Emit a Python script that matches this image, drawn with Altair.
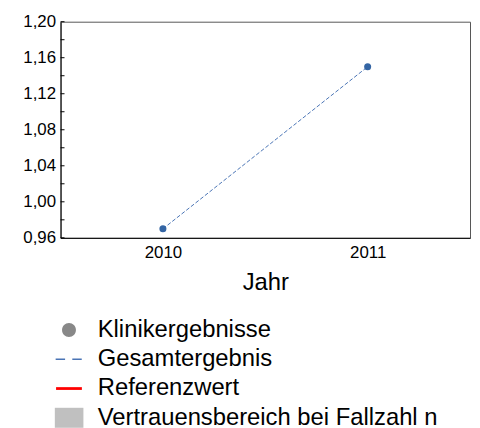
import altair as alt
import pandas as pd

# data
years = [2010, 2011]
values = [0.97, 1.15]
y_ticks = [0.96, 0.98, 1.00, 1.02, 1.04, 1.06, 1.08, 1.10, 1.12, 1.14, 1.16, 1.18, 1.20]
x_ticks = [2010, 2011]
legend_labels = ["Klinikergebnisse", "Gesamtergebnis", "Referenzwert",
                 "Vertrauensbereich bei Fallzahl n"]
legend_colors = ["#888888", "#4a74b5", "#ff0000", "#c0c0c0"]
legend_shapes = [
    "M-0.5,0A0.5,0.5 0 1,0 0.5,0A0.5,0.5 0 1,0 -0.5,0Z",
    "M-0.96,-0.05H-0.28V0.05H-0.96Z M0.24,-0.05H0.92V0.05H0.24Z",
    "M-0.93,-0.1H0.93V0.1H-0.93Z",
    "M-1.02,-0.72H1.04V0.72H-1.02Z",
]

FONT = "Liberation Sans"

df = pd.DataFrame({"Jahr": years, "Wert": values})
ticks_df = pd.DataFrame({"Wert": y_ticks})
leg_df = pd.DataFrame({"serie": legend_labels})

x_enc = alt.X(
    "Jahr:Q",
    scale=alt.Scale(domain=[2009.5, 2011.5], nice=False, zero=False),
    axis=alt.Axis(values=x_ticks, format="d", grid=False, ticks=False,
                  tickSize=0, labelPadding=7, labelFontSize=17,
                  labelFont=FONT, labelColor="#000", domainColor="#000",
                  title="Jahr", titleFontSize=24, titleFont=FONT,
                  titleFontWeight="normal", titleColor="#000",
                  titlePadding=10),
)
y_scale = alt.Scale(domain=[0.96, 1.20], nice=False, zero=False)
y_axis = alt.Axis(values=y_ticks, grid=False, ticks=False, tickSize=0,
                  labelPadding=5, labelFontSize=17, labelFont=FONT,
                  labelColor="#000", domainColor="#000", title=None,
                  labelOverlap=False, labelBound=False,
                  labelExpr="round(datum.value*100) % 4 == 0 ? replace(format(datum.value, '.2f'), '.', ',') : ''")
y_enc = alt.Y("Wert:Q", scale=y_scale, axis=y_axis)

line = alt.Chart(df).mark_line(
    strokeDash=[4, 2], strokeWidth=1, color="#4a74b5"
).encode(x=x_enc, y=y_enc)

points = alt.Chart(df).mark_circle(size=50, color="#3465a4", opacity=1).encode(
    x=x_enc, y=y_enc
)

tick_marks = alt.Chart(ticks_df).mark_rule(color="#000", strokeWidth=1).encode(
    x=alt.value(0), x2=alt.value(4), y=y_enc
)

legend_layer = alt.Chart(leg_df).mark_point(filled=True, size=0, opacity=1).encode(
    color=alt.Color(
        "serie:N",
        scale=alt.Scale(domain=legend_labels, range=legend_colors),
        title=None,
        legend=alt.Legend(
            orient="none", legendX=-5.5, legendY=297, direction="vertical",
            symbolSize=784, symbolStrokeWidth=0, symbolOpacity=1,
            labelFontSize=24, labelFont=FONT, labelColor="#000",
            labelOffset=15, rowPadding=3.5, padding=0, labelLimit=500,
        ),
    ),
    shape=alt.Shape(
        "serie:N",
        scale=alt.Scale(domain=legend_labels, range=legend_shapes),
        title=None,
    ),
)

chart = alt.layer(line, points, tick_marks, legend_layer).properties(
    width=413,
    height=218,
    autosize=alt.AutoSizeParams(type="none"),
    padding={"left": 53, "top": 12, "right": 2, "bottom": 190},
    background="white",
).configure_view(stroke="#555555", strokeWidth=1)

chart.save("out.html", embed_options={"renderer": "svg", "actions": False})
